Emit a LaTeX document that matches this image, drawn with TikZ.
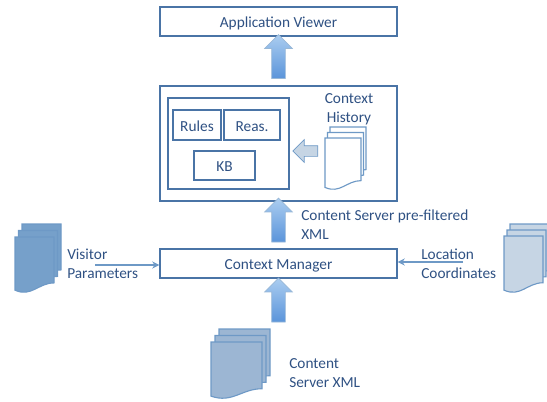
\documentclass[tikz,border=0pt]{standalone}
\usepackage{fontspec}
\setmainfont{Carlito}
\usepackage{xcolor}
\usepackage{tikz}
\usetikzlibrary{shapes.arrows, arrows.meta, positioning}

\definecolor{inkblue}{HTML}{2F5183}
\definecolor{boxblue}{HTML}{4A74A6}
\definecolor{sheetline}{HTML}{6E99C6}
\definecolor{sheetdark}{HTML}{76A0CA}
\definecolor{sheetmid}{HTML}{9CB6D3}
\definecolor{sheetpale}{HTML}{C6D5E4}
\definecolor{arrowtop}{HTML}{ABCDF0}
\definecolor{arrowfoot}{HTML}{5A94DA}

\tikzset{
  box/.style={rectangle, draw=boxblue, line width=1pt, fill=white, inner sep=0pt, text=inkblue,
    text height=8.6pt, text depth=0pt},
  label/.style={align=left, anchor=west, text=inkblue, inner sep=0pt},
  bigarrow/.style={single arrow, draw=sheetline!70, line width=0.5pt, rotate=90, inner xsep=0pt,
    inner ysep=6.5*0.025cm, minimum height=44*0.025cm, single arrow head extend=7*0.025cm,
    top color=arrowtop, bottom color=arrowfoot},
  feed/.style={-{Stealth[length=5pt,width=5pt]}, draw=sheetline, line width=1.2pt},
}

% one sheet with a wavy foot
\newcommand{\docsheet}[5]{
  \draw[draw=sheetline, line width=0.8pt, fill=#5] (#1,#2) -- ({#1+#3},#2) -- ({#1+#3},{#2+0.82*#4})
    .. controls ({#1+0.6*#3},{#2+0.82*#4}) and ({#1+0.42*#3},{#2+1.08*#4}) .. (#1,{#2+0.95*#4}) -- cycle;
}
% three sheets, back one first; the front one gets the name
\newcommand{\docstack}[8]{
  \docsheet{#2+2*#6}{#3+2*#7}{#4}{#5}{#8}
  \docsheet{#2+#6}{#3+#7}{#4}{#5}{#8}
  \docsheet{#2}{#3}{#4}{#5}{#8}
  \coordinate (#1) at ({#2+0.5*#4},{#3+0.5*#5});
}

\begin{document}
\begin{tikzpicture}[x=0.025cm, y=-0.025cm, font=\fontsize{10.9pt}{13.6pt}\selectfont]
  \useasboundingbox (0,0) rectangle (547,402);

  \node[box, minimum width=237*0.025cm, minimum height=29*0.025cm] (Viewer) at (278.5,21.5) {Application Viewer};
  \node[box, minimum width=237*0.025cm, minimum height=115*0.025cm] (Context) at (278.5,143.5) {};
  \node[box, minimum width=121*0.025cm, minimum height=91*0.025cm] (Inner) at (228.5,143.5) {};
  \node[box, minimum width=48*0.025cm, minimum height=30*0.025cm] (Rules) at (197,125) {Rules};
  \node[box, minimum width=56*0.025cm, minimum height=30*0.025cm] (Reas) at (252,125) {Reas.};
  \node[box, minimum width=61*0.025cm, minimum height=29*0.025cm] (KB) at (224.5,165.5) {KB};
  \node[box, minimum width=237*0.025cm, minimum height=29*0.025cm] (Manager) at (278.5,263.5) {Context Manager};

  \node[bigarrow] (ViewerArrow) at (278.5,60) {};
  \node[bigarrow] (ContextArrow) at (278.5,223.5) {};
  \node[bigarrow] (ManagerArrow) at (278.5,303.5) {};
  \node[single arrow, draw=sheetline, line width=0.5pt, fill=sheetpale, inner xsep=0pt,
    inner ysep=5*0.025cm, shape border rotate=180, minimum height=25*0.025cm,
    single arrow head extend=6*0.025cm] (HistoryArrow) at (308,151) {};

  \docstack{History}{325}{138}{36}{52}{2.5}{-5.5}{white}
  \docstack{Visitor}{15}{237}{39}{56}{3.5}{-6.5}{sheetdark}
  \docstack{Location}{504}{236}{39}{57}{3}{-6}{sheetpale}
  \docstack{Content}{211}{342}{51}{57}{4}{-6.5}{sheetmid}

  \node[text=inkblue, align=center, inner sep=0pt] (HistoryLabel) at (349,109.5) {Context\\History};
  \node[label] (VisitorLabel) at (67,263.5) {Visitor\\Parameters};
  \node[label] (LocationLabel) at (421,263.5) {Location\\Coordinates};
  \node[label] (FilterLabel) at (301,225) {Content Server pre-filtered\\XML};
  \node[label] (ContentLabel) at (289,373.5) {Content\\Server XML};

  \coordinate (VisitorEnd) at (95,265);
  \coordinate (LocationEnd) at (463,262);
  \draw[feed] (VisitorEnd) -- (VisitorEnd -| Manager.west);
  \draw[feed] (LocationEnd) -- (LocationEnd -| Manager.east);
\end{tikzpicture}
\end{document}
